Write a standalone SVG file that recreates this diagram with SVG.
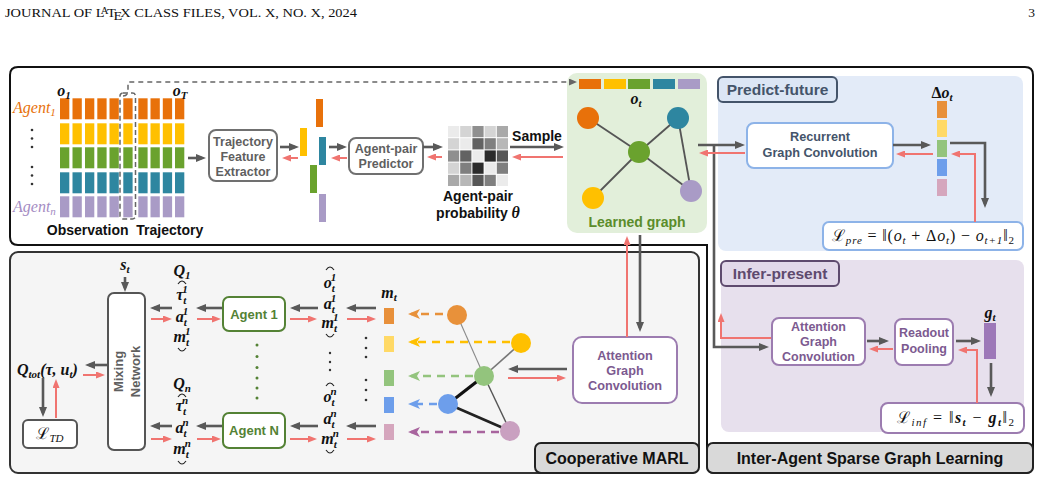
<svg xmlns="http://www.w3.org/2000/svg" xmlns:xlink="http://www.w3.org/1999/xlink" width="1041" height="481" viewBox="0 0 1041 481">
<style>
.t{font-family:"Liberation Sans",Arial,sans-serif;font-weight:bold}
.gb{fill:#5f5f5f;font-size:12.5px}
.m{font-family:"Liberation Serif","DejaVu Serif",serif;font-style:italic;font-weight:bold;font-size:16px;fill:#111}
.fm{font-family:"Liberation Serif","DejaVu Serif",serif;font-size:16px;fill:#111;white-space:pre}
.it{font-style:italic}
.s{font-size:11px}
.ad{fill:none;stroke:#595959;stroke-width:2.6}
.ar{fill:none;stroke:#f07470;stroke-width:2}
.box{fill:#fff;stroke-width:2}
.arc{fill:none;stroke:#222;stroke-width:1.1}
</style>
<defs>
<marker id="mad" viewBox="0 0 10 8" refX="6" refY="4" markerWidth="10" markerHeight="8" markerUnits="userSpaceOnUse" orient="auto"><path d="M0,0 L10,4 L0,8 Z" fill="#595959"/></marker>
<marker id="mar" viewBox="0 0 9 7" refX="6" refY="3.5" markerWidth="9" markerHeight="7" markerUnits="userSpaceOnUse" orient="auto"><path d="M0,0 L9,3.5 L0,7 Z" fill="#f07470"/></marker>
<marker id="mag" viewBox="0 0 8 7" refX="5" refY="3.5" markerWidth="8" markerHeight="7" markerUnits="userSpaceOnUse" orient="auto"><path d="M0,0 L8,3.5 L0,7 Z" fill="#666"/></marker>
<marker id="mo" viewBox="0 0 12 10" refX="9" refY="5" markerWidth="12" markerHeight="10" markerUnits="userSpaceOnUse" orient="auto"><path d="M0,0 L12,5 L0,10 L3,5 Z" fill="#e8913a"/></marker>
<marker id="my" viewBox="0 0 12 10" refX="9" refY="5" markerWidth="12" markerHeight="10" markerUnits="userSpaceOnUse" orient="auto"><path d="M0,0 L12,5 L0,10 L3,5 Z" fill="#ffc000"/></marker>
<marker id="mg" viewBox="0 0 12 10" refX="9" refY="5" markerWidth="12" markerHeight="10" markerUnits="userSpaceOnUse" orient="auto"><path d="M0,0 L12,5 L0,10 L3,5 Z" fill="#93c47d"/></marker>
<marker id="mb" viewBox="0 0 12 10" refX="9" refY="5" markerWidth="12" markerHeight="10" markerUnits="userSpaceOnUse" orient="auto"><path d="M0,0 L12,5 L0,10 L3,5 Z" fill="#6d9eeb"/></marker>
<marker id="mp" viewBox="0 0 12 10" refX="9" refY="5" markerWidth="12" markerHeight="10" markerUnits="userSpaceOnUse" orient="auto"><path d="M0,0 L12,5 L0,10 L3,5 Z" fill="#a8649e"/></marker>
<g id="col">
<rect x="0" y="98.3" width="9.3" height="21" fill="#e8710a"/>
<rect x="0" y="123.3" width="9.3" height="21" fill="#ffc000"/>
<rect x="0" y="147.3" width="9.3" height="21" fill="#6aa22e"/>
<rect x="0" y="172.3" width="9.3" height="21" fill="#2e86a0"/>
<rect x="0" y="196.3" width="9.3" height="21" fill="#a99bc6"/>
</g>
</defs>

<rect width="1041" height="481" fill="#fff"/>

<!-- page header -->
<text x="5" y="17" font-family="'Liberation Serif',serif" font-size="13.5" fill="#111" textLength="352" lengthAdjust="spacingAndGlyphs">JOURNAL OF L<tspan font-size="10" dx="-3.5" dy="-3">A</tspan><tspan font-size="13.5" dx="-1.5" dy="3">T</tspan><tspan dx="-2" dy="3">E</tspan><tspan dx="-2" dy="-3">X CLASS FILES, VOL. X, NO. X, 2024</tspan></text>
<text x="1035" y="17" font-family="'Liberation Serif',serif" font-size="13.5" fill="#111" text-anchor="end">3</text>

<!-- frames -->
<g id="frames">
<path d="M18,67 H1025 Q1033,67 1033,75 V465 Q1033,473 1025,473 H715 Q707,473 707,465 V245 H18 Q10,245 10,237 V75 Q10,67 18,67 Z" fill="none" stroke="#111" stroke-width="2"/>
<rect x="10" y="252" width="689" height="221" rx="8" fill="#f5f5f5" stroke="#333" stroke-width="2"/>
<rect x="535" y="443" width="164" height="30" rx="6" fill="#d9d9d9" stroke="#222" stroke-width="2"/>
<text class="t" x="617" y="464" font-size="16" text-anchor="middle" fill="#111">Cooperative MARL</text>
<rect x="707" y="443" width="326" height="30" rx="6" fill="#d9d9d9" stroke="#222" stroke-width="2"/>
<text class="t" x="870" y="464" font-size="16" text-anchor="middle" fill="#111">Inter-Agent Sparse Graph Learning</text>
</g>

<!-- observation trajectory -->
<g id="observation-trajectory">
<use href="#col" x="60"/><use href="#col" x="72.5"/><use href="#col" x="85"/><use href="#col" x="97.3"/><use href="#col" x="109.5"/>
<use href="#col" x="123.3"/><use href="#col" x="138.3"/><use href="#col" x="150.5"/><use href="#col" x="162.8"/><use href="#col" x="175"/>
<rect x="120" y="93" width="15.5" height="126" rx="3" fill="none" stroke="#666" stroke-width="1.5" stroke-dasharray="5,3"/>
<text class="m" x="64" y="96" text-anchor="middle">o<tspan class="s" dy="3">1</tspan></text>
<text class="m" x="180" y="96" text-anchor="middle">o<tspan class="s" dy="3">T</tspan></text>
<text x="13" y="113" font-family="'Liberation Serif',serif" font-style="italic" font-size="16" fill="#e8710a">Agent<tspan font-size="11" dy="3">1</tspan></text>
<text x="13" y="212" font-family="'Liberation Serif',serif" font-style="italic" font-size="16" fill="#a48cc3">Agent<tspan font-size="11" dy="3">n</tspan></text>
<g fill="#333"><circle cx="32" cy="130" r="1.3"/><circle cx="32" cy="138.5" r="1.3"/><circle cx="32" cy="147" r="1.3"/><circle cx="32" cy="167" r="1.3"/><circle cx="32" cy="175.5" r="1.3"/><circle cx="32" cy="184" r="1.3"/></g>
<text class="t" x="125" y="235" font-size="14" text-anchor="middle" fill="#111" style="white-space:pre">Observation  Trajectory</text>
</g>

<g id="trajectory-feature-extractor">
<rect class="box" x="209" y="130" width="68" height="51" rx="7" stroke="#707070"/>
<text class="t gb" x="243" y="146" text-anchor="middle">Trajectory</text>
<text class="t gb" x="243" y="161" text-anchor="middle">Feature</text>
<text class="t gb" x="243" y="176" text-anchor="middle">Extractor</text>
</g>

<g id="feature-bars">
<rect x="316" y="99" width="7" height="28" fill="#e8710a"/>
<rect x="300" y="128" width="7" height="28" fill="#ffc000"/>
<rect x="319" y="137" width="7" height="28" fill="#2e86a0"/>
<rect x="310" y="165" width="7" height="28" fill="#6aa22e"/>
<rect x="319" y="194" width="7" height="28" fill="#a99bc6"/>
</g>

<g id="agent-pair-predictor">
<rect class="box" x="349" y="138" width="74" height="36" rx="7" stroke="#707070"/>
<text class="t gb" x="386" y="153" text-anchor="middle">Agent-pair</text>
<text class="t gb" x="386" y="168" text-anchor="middle">Predictor</text>
</g>

<g id="agent-pair-probability">
<rect x="448" y="126" width="11.2" height="11.2" fill="#ebebeb"/><rect x="460.2" y="126" width="11.2" height="11.2" fill="#d4d4d4"/><rect x="472.4" y="126" width="11.2" height="11.2" fill="#8f8f8f"/><rect x="484.6" y="126" width="11.2" height="11.2" fill="#d4d4d4"/><rect x="496.8" y="126" width="11.2" height="11.2" fill="#a9a9a9"/>
<rect x="448" y="138.2" width="11.2" height="11.2" fill="#d4d4d4"/><rect x="460.2" y="138.2" width="11.2" height="11.2" fill="#ebebeb"/><rect x="472.4" y="138.2" width="11.2" height="11.2" fill="#626262"/><rect x="484.6" y="138.2" width="11.2" height="11.2" fill="#7f7f7f"/><rect x="496.8" y="138.2" width="11.2" height="11.2" fill="#b7b7b7"/>
<rect x="448" y="150.4" width="11.2" height="11.2" fill="#8f8f8f"/><rect x="460.2" y="150.4" width="11.2" height="11.2" fill="#626262"/><rect x="472.4" y="150.4" width="11.2" height="11.2" fill="#ebebeb"/><rect x="484.6" y="150.4" width="11.2" height="11.2" fill="#2b2b2b"/><rect x="496.8" y="150.4" width="11.2" height="11.2" fill="#575757"/>
<rect x="448" y="162.6" width="11.2" height="11.2" fill="#d4d4d4"/><rect x="460.2" y="162.6" width="11.2" height="11.2" fill="#7f7f7f"/><rect x="472.4" y="162.6" width="11.2" height="11.2" fill="#2b2b2b"/><rect x="484.6" y="162.6" width="11.2" height="11.2" fill="#ebebeb"/><rect x="496.8" y="162.6" width="11.2" height="11.2" fill="#7f7f7f"/>
<rect x="448" y="174.8" width="11.2" height="11.2" fill="#a9a9a9"/><rect x="460.2" y="174.8" width="11.2" height="11.2" fill="#b7b7b7"/><rect x="472.4" y="174.8" width="11.2" height="11.2" fill="#575757"/><rect x="484.6" y="174.8" width="11.2" height="11.2" fill="#7f7f7f"/><rect x="496.8" y="174.8" width="11.2" height="11.2" fill="#ebebeb"/>
<text class="t" x="478" y="201" font-size="14" text-anchor="middle" fill="#111">Agent-pair</text>
<text class="t" x="478" y="218" font-size="14" text-anchor="middle" fill="#111">probability <tspan font-family="'Liberation Serif',serif" font-style="italic" font-size="16">θ</tspan></text>
</g>

<g id="learned-graph">
<rect x="567" y="73" width="140" height="160" rx="10" fill="#e2efda"/>
<rect x="579" y="79" width="22" height="10" fill="#e8710a"/>
<rect x="604" y="79" width="22" height="10" fill="#ffc000"/>
<rect x="628" y="79" width="22" height="10" fill="#6aa22e"/>
<rect x="653" y="79" width="22" height="10" fill="#2e86a0"/>
<rect x="678" y="79" width="22" height="10" fill="#a99bc6"/>
<text class="m" x="636" y="104" text-anchor="middle">o<tspan class="s" dy="3">t</tspan></text>
<g stroke="#555" stroke-width="1.8">
<line x1="588" y1="118" x2="639" y2="152"/><line x1="678" y1="118" x2="639" y2="152"/><line x1="593" y1="198" x2="639" y2="152"/><line x1="691" y1="191" x2="639" y2="152"/><line x1="678" y1="118" x2="691" y2="191"/>
</g>
<circle cx="588" cy="118" r="11" fill="#e8710a"/>
<circle cx="678" cy="118" r="11" fill="#2e86a0"/>
<circle cx="639" cy="152" r="11" fill="#6aa22e"/>
<circle cx="593" cy="198" r="11" fill="#ffc000"/>
<circle cx="691" cy="191" r="11" fill="#a99bc6"/>
<text class="t" x="637" y="227" font-size="14" text-anchor="middle" fill="#5b8c2a">Learned graph</text>
<text class="t" x="537" y="141" font-size="14" text-anchor="middle" fill="#111">Sample</text>
</g>

<!-- predict-future -->
<g id="predict-future">
<rect x="718" y="76" width="305" height="175" rx="8" fill="#e3ebf8"/>
<rect x="718" y="77" width="119" height="25" rx="5" fill="#dce6f5" stroke="#44546a" stroke-width="2"/>
<text class="t" x="777.5" y="95" font-size="15.5" text-anchor="middle" fill="#44546a">Predict-future</text>
</g>
<g id="recurrent-graph-convolution">
<rect class="box" x="747" y="123" width="146" height="45" rx="7" stroke="#8db3e8"/>
<text class="t" x="820" y="141" font-size="12.7" text-anchor="middle" fill="#44546a">Recurrent</text>
<text class="t" x="820" y="157" font-size="12.7" text-anchor="middle" fill="#44546a">Graph Convolution</text>
</g>
<g id="delta-o">
<text class="m" x="942" y="98" text-anchor="middle"><tspan font-style="normal">Δ</tspan>o<tspan class="s" dy="3">t</tspan></text>
<rect x="937" y="101" width="10" height="17" fill="#e8903a"/>
<rect x="937" y="120" width="10" height="17" fill="#ffd966"/>
<rect x="937" y="140" width="10" height="17" fill="#93c47d"/>
<rect x="937" y="159" width="10" height="17" fill="#6d9eeb"/>
<rect x="937" y="179" width="10" height="17" fill="#d5a6bd"/>
</g>
<g id="loss-pre">
<rect class="box" x="823" y="222" width="200" height="28" rx="6" stroke="#8db3e8"/>
<text class="fm" x="832" y="241" textLength="182" lengthAdjust="spacing">ℒ<tspan class="s it" dy="3">pre</tspan><tspan dy="-3"> = ‖(</tspan><tspan class="it">o</tspan><tspan class="s it" dy="3">t</tspan><tspan dy="-3"> + Δ</tspan><tspan class="it">o</tspan><tspan class="s it" dy="3">t</tspan><tspan dy="-3">) − </tspan><tspan class="it">o</tspan><tspan class="s it" dy="3">t+1</tspan><tspan dy="-3">‖</tspan><tspan class="s" dy="3">2</tspan></text>
</g>

<!-- infer-present -->
<g id="infer-present">
<rect x="721" y="260" width="303" height="172" rx="8" fill="#e7e0ed"/>
<rect x="721" y="261" width="118" height="25" rx="5" fill="#e2d9ea" stroke="#5e4a6e" stroke-width="2"/>
<text class="t" x="780" y="279" font-size="15.5" text-anchor="middle" fill="#5e4a6e">Infer-present</text>
</g>
<g id="attention-graph-convolution-right">
<rect class="box" x="772" y="318" width="93" height="47" rx="7" stroke="#9c7cb0"/>
<text class="t" x="818.5" y="331" font-size="12.5" text-anchor="middle" fill="#7c5a90">Attention</text>
<text class="t" x="818.5" y="346" font-size="12.5" text-anchor="middle" fill="#7c5a90">Graph</text>
<text class="t" x="818.5" y="361" font-size="12.5" text-anchor="middle" fill="#7c5a90">Convolution</text>
</g>
<g id="readout-pooling">
<rect class="box" x="895" y="319" width="58" height="46" rx="7" stroke="#9c7cb0"/>
<text class="t" x="924" y="337" font-size="12.5" text-anchor="middle" fill="#7c5a90">Readout</text>
<text class="t" x="924" y="353" font-size="12.5" text-anchor="middle" fill="#7c5a90">Pooling</text>
</g>
<g id="g-t">
<text class="m" x="990" y="318" text-anchor="middle">g<tspan class="s" dy="3">t</tspan></text>
<rect x="984" y="323" width="12" height="36" fill="#9d78b8"/>
</g>
<g id="loss-inf">
<rect class="box" x="881" y="403" width="143" height="30" rx="7" stroke="#9c7cb0"/>
<text class="fm" x="897" y="423" textLength="117" lengthAdjust="spacing">ℒ<tspan class="s it" dy="3">inf</tspan><tspan dy="-3"> = ‖</tspan><tspan class="it" font-weight="bold">s</tspan><tspan class="s it" font-weight="bold" dy="3">t</tspan><tspan dy="-3"> − </tspan><tspan class="it" font-weight="bold">g</tspan><tspan class="s it" font-weight="bold" dy="3">t</tspan><tspan dy="-3">‖</tspan><tspan class="s" dy="3">2</tspan></text>
</g>

<!-- cooperative MARL -->
<g id="attention-graph-convolution-bottom">
<rect class="box" x="573" y="337" width="104" height="66" rx="9" stroke="#9c7cb0"/>
<text class="t" x="625" y="359.5" font-size="12.7" text-anchor="middle" fill="#7c5a90">Attention</text>
<text class="t" x="625" y="374.5" font-size="12.7" text-anchor="middle" fill="#7c5a90">Graph</text>
<text class="t" x="625" y="389.5" font-size="12.7" text-anchor="middle" fill="#7c5a90">Convolution</text>
</g>
<g id="attention-graph">
<line x1="457" y1="315" x2="484" y2="376" stroke="#8a8a8a" stroke-width="1.1"/>
<line x1="521" y1="343" x2="484" y2="376" stroke="#777" stroke-width="1.6"/>
<line x1="484" y1="376" x2="448" y2="404" stroke="#111" stroke-width="3.2"/>
<line x1="484" y1="376" x2="510" y2="431" stroke="#555" stroke-width="1.4"/>
<line x1="448" y1="404" x2="510" y2="431" stroke="#222" stroke-width="2.6"/>
<circle cx="457" cy="315" r="10" fill="#e8913a"/>
<circle cx="521" cy="343" r="10" fill="#ffc000"/>
<circle cx="484" cy="376" r="10" fill="#93c47d"/>
<circle cx="448" cy="404" r="10" fill="#6d9eeb"/>
<circle cx="510" cy="431" r="10" fill="#c9a0c0"/>
</g>
<g id="messages">
<text class="m" x="389" y="298" text-anchor="middle">m<tspan class="s" dy="3">t</tspan></text>
<rect x="384" y="308" width="10" height="16" fill="#e8903a"/>
<rect x="384" y="336" width="10" height="16" fill="#ffd966"/>
<rect x="384" y="370" width="10" height="16" fill="#93c47d"/>
<rect x="384" y="397" width="10" height="16" fill="#6d9eeb"/>
<rect x="384" y="424" width="10" height="16" fill="#d5a6bd"/>
<g fill="#333"><circle cx="366" cy="338" r="1.3"/><circle cx="366" cy="348" r="1.3"/><circle cx="366" cy="357" r="1.3"/><circle cx="366" cy="380" r="1.3"/><circle cx="366" cy="390" r="1.3"/><circle cx="366" cy="400" r="1.3"/></g>
</g>
<g id="agent-inputs">
<path class="arc" d="M326,270 Q330,264 334,270"/>
<text class="m" x="330" y="288" text-anchor="middle">o<tspan class="s" dy="4">t</tspan><tspan class="s" dx="-4" dy="-11">1</tspan></text>
<text class="m" x="330" y="309" text-anchor="middle">a<tspan class="s" dy="4">t</tspan><tspan class="s" dx="-4" dy="-11">1</tspan></text>
<text class="m" x="330" y="328" text-anchor="middle" fill="#e8903a">m<tspan class="s" dy="4">t</tspan><tspan class="s" dx="-4" dy="-11">1</tspan></text>
<path class="arc" d="M326,334 Q330,340 334,334"/>
<g fill="#333"><circle cx="330" cy="353" r="1.2"/><circle cx="330" cy="362" r="1.2"/><circle cx="330" cy="370" r="1.2"/></g>
<path class="arc" d="M326,386 Q330,380 334,386"/>
<text class="m" x="330" y="402" text-anchor="middle">o<tspan class="s" dy="4">t</tspan><tspan class="s" dx="-4" dy="-11">n</tspan></text>
<text class="m" x="330" y="424" text-anchor="middle">a<tspan class="s" dy="4">t</tspan><tspan class="s" dx="-4" dy="-11">n</tspan></text>
<text class="m" x="330" y="444" text-anchor="middle" fill="#b278b0">m<tspan class="s" dy="4">t</tspan><tspan class="s" dx="-4" dy="-11">n</tspan></text>
<path class="arc" d="M326,450 Q330,456 334,450"/>
</g>
<g id="agent-1">
<rect class="box" x="223" y="297" width="62" height="34" rx="6" stroke="#548235"/>
<text class="t" x="254" y="319" font-size="13" text-anchor="middle" fill="#548235">Agent 1</text>
</g>
<g id="agent-n">
<rect class="box" x="223" y="413" width="62" height="35" rx="6" stroke="#548235"/>
<text class="t" x="254" y="435" font-size="13" text-anchor="middle" fill="#548235">Agent N</text>
</g>
<g fill="#548235"><circle cx="257" cy="345" r="1.5"/><circle cx="257" cy="356.5" r="1.5"/><circle cx="257" cy="367.5" r="1.5"/><circle cx="257" cy="378" r="1.5"/><circle cx="257" cy="388" r="1.5"/><circle cx="257" cy="398" r="1.5"/></g>
<g id="agent-outputs">
<text class="m" x="182" y="276" text-anchor="middle">Q<tspan class="s" dy="3">1</tspan></text>
<path class="arc" d="M178,284 Q182,278 186,284"/>
<text class="m" x="182" y="300" text-anchor="middle">τ<tspan class="s" dy="4">t</tspan><tspan class="s" dx="-4" dy="-11">1</tspan></text>
<text class="m" x="182" y="322" text-anchor="middle">a<tspan class="s" dy="4">t</tspan><tspan class="s" dx="-4" dy="-11">1</tspan></text>
<text class="m" x="182" y="342" text-anchor="middle" fill="#e8903a">m<tspan class="s" dy="4">t</tspan><tspan class="s" dx="-4" dy="-11">1</tspan></text>
<path class="arc" d="M178,348 Q182,354 186,348"/>
<text class="m" x="182" y="389" text-anchor="middle">Q<tspan class="s" dy="3">n</tspan></text>
<path class="arc" d="M178,397 Q182,391 186,397"/>
<text class="m" x="182" y="411" text-anchor="middle">τ<tspan class="s" dy="4">t</tspan><tspan class="s" dx="-4" dy="-11">n</tspan></text>
<text class="m" x="182" y="433" text-anchor="middle">a<tspan class="s" dy="4">t</tspan><tspan class="s" dx="-4" dy="-11">n</tspan></text>
<text class="m" x="182" y="454" text-anchor="middle" fill="#b278b0">m<tspan class="s" dy="4">t</tspan><tspan class="s" dx="-4" dy="-11">n</tspan></text>
<path class="arc" d="M178,461 Q182,467 186,461"/>
</g>
<g id="mixing-network">
<rect class="box" x="108" y="293" width="37" height="157" rx="6" stroke="#555"/>
<g transform="translate(126.5,371.5) rotate(-90)"><text class="t" x="0" y="-4" font-size="13" text-anchor="middle" fill="#5f5f5f">Mixing</text><text class="t" x="0" y="13" font-size="13" text-anchor="middle" fill="#5f5f5f">Network</text></g>
<text class="m" x="125" y="270" text-anchor="middle">s<tspan class="s" dy="3">t</tspan></text>
</g>
<g id="q-tot">
<text class="m" x="17" y="375">Q<tspan class="s" dy="3">tot</tspan><tspan dy="-3">(τ, u</tspan><tspan class="s" dy="3">t</tspan><tspan dy="-3">)</tspan></text>
</g>
<g id="loss-td">
<rect class="box" x="23" y="420" width="54" height="28" rx="5" stroke="#555"/>
<text class="fm" x="50" y="439" text-anchor="middle">ℒ<tspan class="s it" dy="3">TD</tspan></text>
</g>

<!-- connectors -->
<g id="connectors">
<path d="M123,96 Q128,96 128,90 V82 H574" fill="none" stroke="#666" stroke-width="1.5" stroke-dasharray="5,4" marker-end="url(#mag)"/>
<g class="ad" marker-end="url(#mad)">
<path d="M188,158 H202"/>
<path d="M280,147 H295"/>
<path d="M329,147 H343"/>
<path d="M423,147 H439"/>
<path d="M510,147 H560"/>
<path d="M698,145 H741"/>
<path d="M714,145 V347 H765"/>
<path d="M893,145 H927"/>
<path d="M950,143 H985 V204"/>
<path d="M867,341 H885"/>
<path d="M956,341 H977"/>
<path d="M991,363 V393"/>
<path d="M640,235 V328"/>
<path d="M567,369 H512"/>
<path d="M376,308 H350"/>
<path d="M376,426 H350"/>
<path d="M318,308 H294"/>
<path d="M318,426 H294"/>
<path d="M222,308 H200"/>
<path d="M222,426 H200"/>
<path d="M172,308 H154"/>
<path d="M172,426 H154"/>
<path d="M125,277 V288"/>
<path d="M107,365 H89"/>
<path d="M43,378 V413"/>
</g>
<g class="ar" marker-end="url(#mar)">
<path d="M298,158 H285"/>
<path d="M347,158 H334"/>
<path d="M442,157 H430"/>
<path d="M563,157 H515"/>
<path d="M745,153 H702"/>
<path d="M771,338 H721 V316"/>
<path d="M933,154 H899"/>
<path d="M975,222 V154 H954"/>
<path d="M893,349 H872"/>
<path d="M977,403 V350 H961"/>
<path d="M627,337 V239"/>
<path d="M508,378 H563"/>
<path d="M347,319 H373"/>
<path d="M347,439 H373"/>
<path d="M290,319 H314"/>
<path d="M290,439 H314"/>
<path d="M197,319 H218"/>
<path d="M197,439 H218"/>
<path d="M151,319 H169"/>
<path d="M151,439 H169"/>
<path d="M83,375 H102"/>
<path d="M56,418 V382"/>
</g>
<g fill="none" stroke-width="2.6" stroke-dasharray="8,6">
<path d="M443,314 H411" stroke="#e8913a" marker-end="url(#mo)"/>
<path d="M510,342 H411" stroke="#ffc000" marker-end="url(#my)"/>
<path d="M473,376 H411" stroke="#93c47d" marker-end="url(#mg)"/>
<path d="M437,404 H411" stroke="#6d9eeb" marker-end="url(#mb)"/>
<path d="M499,432 H411" stroke="#a8649e" marker-end="url(#mp)"/>
</g>
</g>
</svg>
